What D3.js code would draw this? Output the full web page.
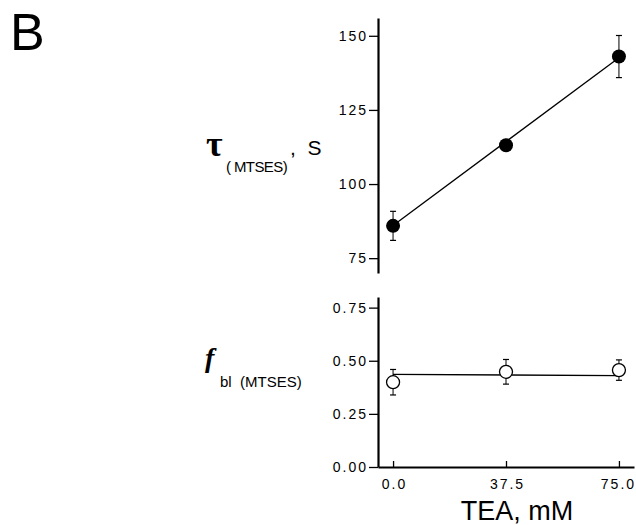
<!DOCTYPE html>
<html>
    <head>
        <meta charset="utf-8">
        <style>
        html, body {
            margin: 0px;
            background: #fff;
        }
        svg { display: block; }
        .axis text {
            font: 14px "Liberation Sans", Arial, sans-serif;
            letter-spacing: 2px;
            fill: #000;
        }
        .axis path.domain {
            stroke: #000;
            stroke-width: 2.2px;
        }
        .axis line {
            stroke: #000;
            stroke-width: 1.3px;
        }
        .lbl { font-family: "Liberation Sans", Arial, sans-serif; fill: #000; }
        </style>
    </head>
    <body>
        <svg class="chart" width="636" height="525"></svg>
        <script src="https://d3js.org/d3.v7.min.js"></script>
        <script>
            // TEA concentration, mM
            var conc = [0, 37.5, 75];
            var xTicks = [0, 37.5, 75];

            // tau(MTSES), s
            var tau = [85.9, 113.1, 143.0];
            var tauErr = [4.9, 0, 7.1];
            var tauFit = [86.0, 142.6];      // fitted line at 0 and 75 mM
            var tauTicks = [75, 100, 125, 150];

            // f bl(MTSES)
            var fbl = [0.399, 0.448, 0.456];
            var fblErr = [0.060, 0.058, 0.048];
            var fblFit = [0.436, 0.430];
            var fblTicks = [0, 0.25, 0.5, 0.75];

            var svg = d3.select(".chart");

            var x = d3.scaleLinear().domain([-5, 80]).range([378, 634]);
            var yTop = d3.scaleLinear().domain([70, 156]).range([273, 18]);
            var yBot = d3.scaleLinear().domain([0, 0.8]).range([467, 297]);

            // ---- axes
            svg.append("g")
                .attr("class", "axis")
                .attr("transform", "translate(" + x.range()[0] + ",0)")
                .call(d3.axisLeft(yTop).tickValues(tauTicks).tickSizeInner(9).tickSizeOuter(0).tickPadding(3))
                .selectAll("text").attr("dx", "2px");

            svg.append("g")
                .attr("class", "axis")
                .attr("transform", "translate(" + x.range()[0] + ",0)")
                .call(d3.axisLeft(yBot).tickValues(fblTicks).tickFormat(d3.format(".2f")).tickSizeInner(9).tickSizeOuter(0).tickPadding(3))
                .selectAll("text").attr("dx", "2px");

            var xAxis = svg.append("g")
                .attr("class", "axis")
                .attr("transform", "translate(0," + yBot.range()[0] + ")")
                .call(d3.axisBottom(x).tickValues(xTicks).tickFormat(d3.format(".1f")).tickSizeInner(-6).tickSizeOuter(0).tickPadding(12));
            xAxis.selectAll("text")
                .attr("dx", function(d, i) { return i == 2 ? "-1px" : "1px"; });

            function errBars(g, ys, es, y) {
                var eb = g.selectAll(".eb").data(conc).enter().append("g")
                    .filter(function(d, i) { return es[i] > 0; });
                eb.append("line")
                    .attr("x1", function(d) { return x(d); }).attr("x2", function(d) { return x(d); })
                    .attr("y1", function(d) { var i = conc.indexOf(d); return y(ys[i] + es[i]); })
                    .attr("y2", function(d) { var i = conc.indexOf(d); return y(ys[i] - es[i]); })
                    .attr("stroke", "#000").attr("stroke-width", 1);
                [1, -1].forEach(function(s) {
                    eb.append("line")
                        .attr("x1", function(d) { return x(d) - 3; }).attr("x2", function(d) { return x(d) + 3; })
                        .attr("y1", function(d) { var i = conc.indexOf(d); return y(ys[i] + s * es[i]); })
                        .attr("y2", function(d) { var i = conc.indexOf(d); return y(ys[i] + s * es[i]); })
                        .attr("stroke", "#000").attr("stroke-width", 1.2);
                });
            }

            // ---- top panel: fit line, error bars, filled points
            var topG = svg.append("g");
            topG.append("line")
                .attr("x1", x(conc[0])).attr("x2", x(conc[conc.length - 1]))
                .attr("y1", yTop(tauFit[0])).attr("y2", yTop(tauFit[1]))
                .attr("stroke", "#000").attr("stroke-width", 1.3);
            errBars(topG, tau, tauErr, yTop);
            topG.selectAll("circle").data(conc).enter().append("circle")
                .attr("cx", function(d) { return x(d); })
                .attr("cy", function(d, i) { return yTop(tau[i]); })
                .attr("r", 7)
                .attr("fill", "#000");

            // ---- bottom panel
            var botG = svg.append("g");
            botG.append("line")
                .attr("x1", x(conc[0])).attr("x2", x(conc[conc.length - 1]))
                .attr("y1", yBot(fblFit[0])).attr("y2", yBot(fblFit[1]))
                .attr("stroke", "#000").attr("stroke-width", 1.3);
            errBars(botG, fbl, fblErr, yBot);
            botG.selectAll("circle").data(conc).enter().append("circle")
                .attr("cx", function(d) { return x(d); })
                .attr("cy", function(d, i) { return yBot(fbl[i]); })
                .attr("r", 6.5)
                .attr("fill", "#fff")
                .attr("stroke", "#000")
                .attr("stroke-width", 1.3);

            // ---- labels
            svg.append("text").attr("class", "lbl")
                .attr("x", 10).attr("y", 50)
                .style("font-size", "52px")
                .text("B");

            svg.append("text").attr("class", "lbl")
                .attr("x", 206).attr("y", 156)
                .style("font-family", "'Liberation Serif', serif")
                .style("font-weight", "bold")
                .style("font-size", "36px")
                .text("\u03c4");
            svg.append("text").attr("class", "lbl")
                .attr("x", 226).attr("y", 172)
                .style("font-size", "15px")
                .style("letter-spacing", "-0.6px")
                .text("( MTSES)");
            svg.append("text").attr("class", "lbl")
                .attr("x", 290).attr("y", 155)
                .style("font-size", "21px")
                .attr("xml:space", "preserve")
                .text(",  S");

            svg.append("text").attr("class", "lbl")
                .attr("x", 205).attr("y", 367)
                .style("font-family", "'Liberation Serif', serif")
                .style("font-style", "italic")
                .style("font-weight", "bold")
                .style("font-size", "28px")
                .text("f");
            svg.append("text").attr("class", "lbl")
                .attr("x", 220).attr("y", 387)
                .style("font-size", "15px")
                .attr("xml:space", "preserve")
                .text("bl  (MTSES)");

            svg.append("text").attr("class", "lbl")
                .attr("x", 517).attr("y", 520)
                .attr("text-anchor", "middle")
                .style("font-size", "27px")
                .text("TEA, mM");
        </script>
    </body>
</html>
